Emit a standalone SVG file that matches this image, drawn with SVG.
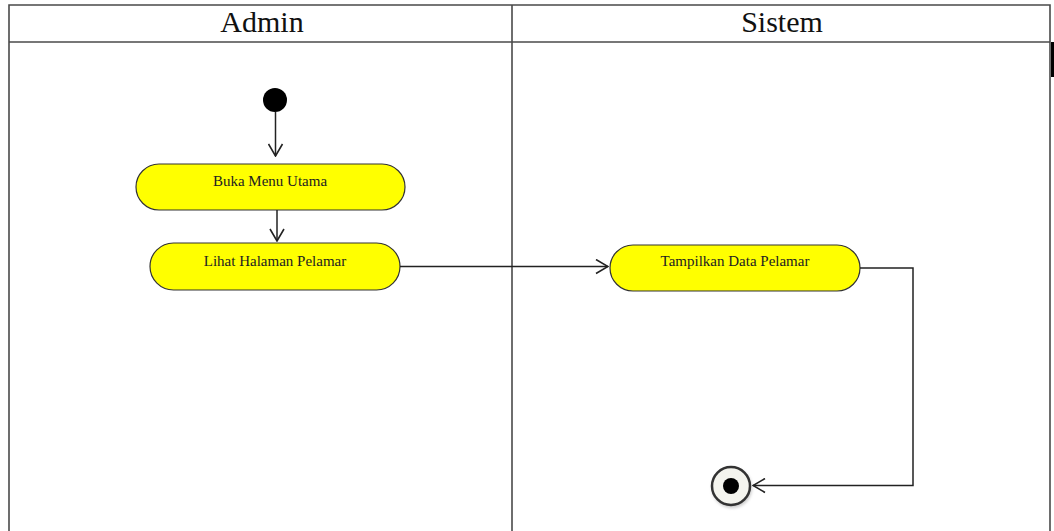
<svg xmlns="http://www.w3.org/2000/svg" width="1054" height="531" viewBox="0 0 1054 531">
<style>
.lane{fill:none;stroke:#4a4a4a;stroke-width:1.6}
.hdr{font-family:"Liberation Serif",serif;font-size:30px;fill:#111;text-anchor:middle}
.act{fill:#ffff00;stroke:#333;stroke-width:1.2}
.lbl{font-family:"Liberation Serif",serif;font-size:15px;fill:#222;text-anchor:middle}
.edge{fill:none;stroke:#222;stroke-width:1.5}
</style>
<defs>
<marker id="open" viewBox="0 0 14 16" refX="13" refY="8" markerWidth="14" markerHeight="16" markerUnits="userSpaceOnUse" orient="auto">
<path d="M1,1 L13,8 L1,15" fill="none" stroke="#222" stroke-width="1.6"/>
</marker>
<filter id="sh" x="-50%" y="-50%" width="200%" height="200%"><feGaussianBlur stdDeviation="1.5"/></filter>
</defs>
<rect width="1054" height="531" fill="#fff"/>
<g id="swimlanes">
<path class="lane" d="M9,531 V5 H1050 V531"/>
<line class="lane" x1="9" y1="42" x2="1050" y2="42"/>
<line class="lane" x1="512" y1="5" x2="512" y2="531"/>
<rect x="1051" y="42" width="3" height="35" fill="#000"/>
<text class="hdr" x="262" y="32">Admin</text>
<text class="hdr" x="782" y="32">Sistem</text>
</g>
<g id="start"><circle cx="275" cy="100" r="12" fill="#000"/></g>
<g id="buka-menu-utama">
<rect class="act" x="136" y="164" width="269" height="46" rx="23"/>
<text class="lbl" x="270" y="186">Buka Menu Utama</text>
</g>
<g id="lihat-halaman-pelamar">
<rect class="act" x="150" y="243" width="250" height="47" rx="23.5"/>
<text class="lbl" x="275" y="266">Lihat Halaman Pelamar</text>
</g>
<g id="tampilkan-data-pelamar">
<rect class="act" x="610" y="245" width="250" height="46" rx="23"/>
<text class="lbl" x="735" y="266">Tampilkan Data Pelamar</text>
</g>
<g id="end">
<circle cx="732" cy="488" r="20" fill="#999" opacity="0.5" filter="url(#sh)"/>
<circle cx="731" cy="486" r="19" fill="#f4f4ee" stroke="#333" stroke-width="2.5"/>
<circle cx="731" cy="486" r="8" fill="#000"/>
</g>
<g id="connectors">
<line class="edge" x1="275.5" y1="112" x2="275.5" y2="156" marker-end="url(#open)"/>
<line class="edge" x1="277" y1="210" x2="277" y2="241" marker-end="url(#open)"/>
<line class="edge" x1="400" y1="266.5" x2="608" y2="266.5" marker-end="url(#open)"/>
<polyline class="edge" points="860,268 913,268 913,485.5 753,485.5" marker-end="url(#open)"/>
</g>
</svg>
